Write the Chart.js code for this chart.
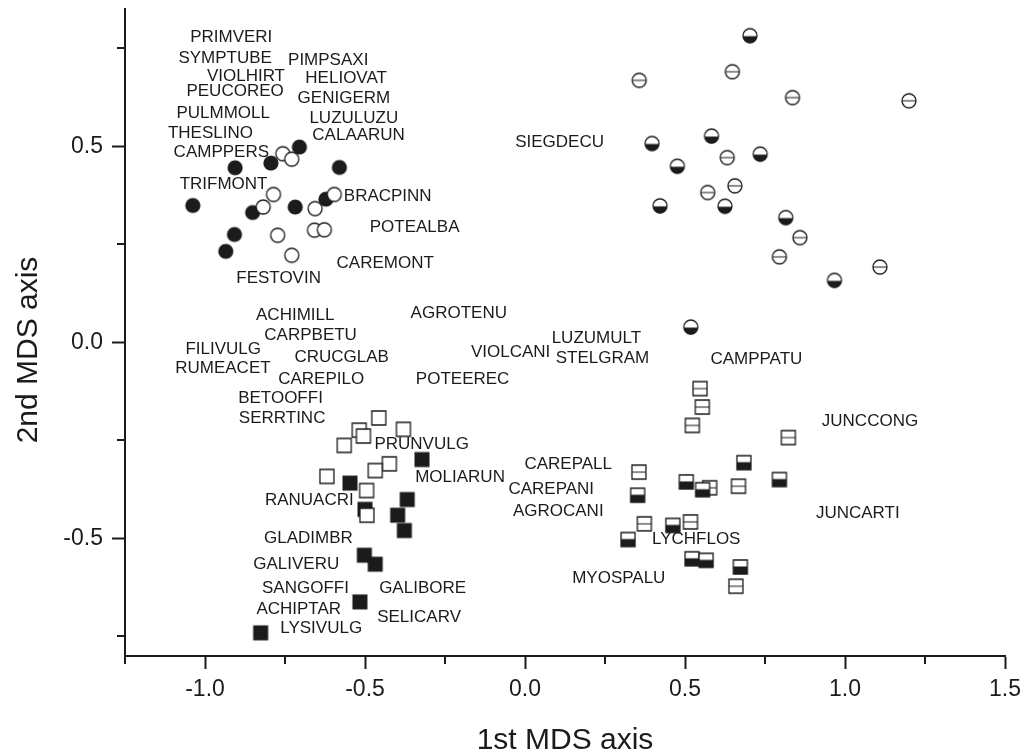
<!DOCTYPE html>
<html>
<head>
<meta charset="utf-8">
<title>MDS ordination</title>
<script src="https://cdn.jsdelivr.net/npm/chart.js@4.4.1/dist/chart.umd.min.js"></script>
<style>
  html, body { margin: 0; padding: 0; background: #fff; }
  #wrap { width: 1025px; height: 754px; }
</style>
</head>
<body>
<div id="wrap"><canvas id="mds" width="1025" height="754"></canvas></div>
<script>
// ── Site scores (1st, 2nd MDS axis) ────────────────────────────────────────

const filledCircles = [
    [-0.705, 0.498], [-0.906, 0.445], [-0.794, 0.457], [-0.580, 0.446], [-1.038, 0.349],
    [-0.851, 0.331], [-0.718, 0.345], [-0.622, 0.365], [-0.908, 0.275], [-0.935, 0.232],
];
const openCircles = [
    [-0.757, 0.481], [-0.729, 0.467], [-0.786, 0.377], [-0.818, 0.345], [-0.596, 0.377],
    [-0.656, 0.341], [-0.658, 0.286], [-0.627, 0.287], [-0.773, 0.273], [-0.729, 0.222],
];
const halfCircles = [
    [0.703, 0.782], [0.397, 0.507], [0.583, 0.526], [0.735, 0.480], [0.476, 0.449],
    [0.422, 0.348], [0.625, 0.347], [0.815, 0.318], [0.967, 0.158], [0.518, 0.039],
];
const lineCircles = [
    [0.357, 0.668], [0.648, 0.690], [0.836, 0.624], [1.200, 0.616], [0.632, 0.471],
    [0.656, 0.399], [0.571, 0.382], [0.859, 0.267], [0.795, 0.218], [1.109, 0.192],
];
const filledSquares = [
    [-0.322, -0.299], [-0.547, -0.359], [-0.368, -0.401], [-0.500, -0.426], [-0.398, -0.441],
    [-0.377, -0.480], [-0.502, -0.543], [-0.468, -0.566], [-0.516, -0.662], [-0.826, -0.741],
];
const openSquares = [
    [-0.457, -0.193], [-0.518, -0.224], [-0.505, -0.239], [-0.380, -0.222], [-0.565, -0.263],
    [-0.424, -0.310], [-0.468, -0.327], [-0.619, -0.342], [-0.495, -0.378], [-0.494, -0.441],
];
const halfSquares = [
    [0.684, -0.307], [0.795, -0.350], [0.504, -0.356], [0.555, -0.376], [0.352, -0.390],
    [0.462, -0.467], [0.322, -0.503], [0.522, -0.552], [0.566, -0.556], [0.673, -0.573],
];
const lineSquares = [
    [0.547, -0.118], [0.554, -0.165], [0.523, -0.212], [0.823, -0.243], [0.356, -0.331],
    [0.577, -0.371], [0.667, -0.367], [0.373, -0.463], [0.517, -0.458], [0.659, -0.622],
];

// species scores: name, 1st axis, 2nd axis (label centre)
const speciesLabels = [
    ['PRIMVERI', -0.918, 0.777], ['SYMPTUBE', -0.937, 0.724], ['PIMPSAXI', -0.615, 0.718],
    ['VIOLHIRT', -0.872, 0.679], ['HELIOVAT', -0.559, 0.673], ['PEUCOREO', -0.906, 0.639],
    ['GENIGERM', -0.566, 0.622], ['PULMMOLL', -0.943, 0.583], ['LUZULUZU', -0.535, 0.571],
    ['THESLINO', -0.983, 0.534], ['CALAARUN', -0.520, 0.528], ['CAMPPERS', -0.949, 0.485],
    ['TRIFMONT', -0.942, 0.402], ['BRACPINN', -0.429, 0.372], ['POTEALBA', -0.345, 0.294],
    ['CAREMONT', -0.437, 0.201], ['FESTOVIN', -0.770, 0.163], ['SIEGDECU', 0.108, 0.511],
    ['ACHIMILL', -0.718, 0.069], ['AGROTENU', -0.207, 0.075], ['CARPBETU', -0.670, 0.018],
    ['FILIVULG', -0.943, -0.018], ['CRUCGLAB', -0.573, -0.039], ['RUMEACET', -0.944, -0.067],
    ['CAREPILO', -0.637, -0.095], ['POTEEREC', -0.195, -0.095], ['BETOOFFI', -0.764, -0.144],
    ['SERRTINC', -0.759, -0.195], ['PRUNVULG', -0.323, -0.259], ['MOLIARUN', -0.203, -0.344],
    ['RANUACRI', -0.674, -0.403], ['GLADIMBR', -0.677, -0.501], ['GALIVERU', -0.715, -0.565],
    ['SANGOFFI', -0.686, -0.627], ['GALIBORE', -0.320, -0.628], ['ACHIPTAR', -0.707, -0.682],
    ['SELICARV', -0.331, -0.701], ['LYSIVULG', -0.637, -0.730], ['VIOLCANI', -0.045, -0.025],
    ['LUZUMULT', 0.223, 0.011], ['STELGRAM', 0.242, -0.040], ['CAMPPATU', 0.723, -0.044],
    ['JUNCCONG', 1.078, -0.202], ['CAREPALL', 0.135, -0.310], ['CAREPANI', 0.082, -0.375],
    ['AGROCANI', 0.104, -0.430], ['JUNCARTI', 1.040, -0.437], ['LYCHFLOS', 0.535, -0.503],
    ['MYOSPALU', 0.293, -0.603],
];

const xRange      = [-1.25, 1.5];
const yRange      = [-0.8, 0.85];
const xMajorTicks = [-1.0, -0.5, 0.0, 0.5, 1.0, 1.5];
const xMinorTicks = [-1.25, -0.75, -0.25, 0.25, 0.75, 1.25];
const yMajorTicks = [-0.5, 0.0, 0.5];
const yMinorTicks = [-0.75, -0.25, 0.25, 0.75];

const INK  = '#1b1b1b';
const FONT = "'Liberation Sans', Arial, Helvetica, sans-serif";

// ── Marker glyphs ──────────────────────────────────────────────────────────

function makeMarker(kind) {
    const s = 18, m = s / 2, r = 7;
    const c = document.createElement('canvas');
    c.width = c.height = s;
    const g = c.getContext('2d');
    g.lineWidth   = 1.3;
    g.strokeStyle = INK;
    g.fillStyle   = '#fff';

    const circle = () => { g.beginPath(); g.arc(m, m, r, 0, Math.PI * 2); };
    const square = () => { g.beginPath(); g.rect(m - r, m - r, r * 2, r * 2); };

    if (kind === 'filledCircle') {
        g.fillStyle = INK; g.beginPath(); g.arc(m, m, r + 0.6, 0, Math.PI * 2); g.fill();
    } else if (kind === 'filledSquare') {
        g.fillStyle = INK; g.fillRect(m - r - 0.5, m - r - 0.5, r * 2 + 1, r * 2 + 1);
    } else if (kind.endsWith('Circle')) {
        circle(); g.fill();
        if (kind === 'halfCircle') {
            g.fillStyle = INK; g.beginPath(); g.arc(m, m + 0.5, r, 0, Math.PI); g.closePath(); g.fill();
        }
        circle(); g.stroke();
        if (kind === 'lineCircle') {
            g.lineWidth = 1; g.beginPath(); g.moveTo(m - r, m); g.lineTo(m + r, m); g.stroke();
        }
    } else {
        square(); g.fill();
        if (kind === 'halfSquare') {
            g.fillStyle = INK; g.fillRect(m - r, m - 0.5, r * 2, r + 0.5);
        }
        square(); g.stroke();
        if (kind === 'lineSquare') {
            g.lineWidth = 1; g.beginPath(); g.moveTo(m - r, m); g.lineTo(m + r, m); g.stroke();
        }
    }
    return c;
}

// dataset 0 is painted last (on top)
const groups = [
    ['openCircle',   openCircles],
    ['filledCircle', filledCircles],
    ['openSquare',   openSquares],
    ['filledSquare', filledSquares],
    ['halfSquare',   halfSquares],
    ['lineSquare',   lineSquares],
    ['lineCircle',   lineCircles],
    ['halfCircle',   halfCircles],
];

// ── Decorations: species names, minor ticks, axis titles ───────────────────

const mdsDecor = {
    id: 'mdsDecor',
    beforeDatasetsDraw(chart) {
        const { ctx, scales: { x, y } } = chart;
        ctx.save();
        ctx.fillStyle    = INK;
        ctx.font         = `17px ${FONT}`;
        ctx.textAlign    = 'center';
        ctx.textBaseline = 'middle';
        speciesLabels.forEach(([name, lx, ly]) =>
            ctx.fillText(name, x.getPixelForValue(lx), y.getPixelForValue(ly)));
        ctx.restore();
    },
    afterDraw(chart) {
        const { ctx, scales: { x, y }, chartArea: area } = chart;
        ctx.save();
        ctx.strokeStyle = INK;
        ctx.lineWidth   = 2;
        ctx.beginPath();
        xMinorTicks.forEach(v => {
            const px = Math.round(x.getPixelForValue(v));
            ctx.moveTo(px, area.bottom);
            ctx.lineTo(px, area.bottom + 8);
        });
        yMinorTicks.forEach(v => {
            const py = Math.round(y.getPixelForValue(v));
            ctx.moveTo(area.left, py);
            ctx.lineTo(area.left - 8, py);
        });
        ctx.stroke();

        ctx.fillStyle    = INK;
        ctx.font         = `30px ${FONT}`;
        ctx.textAlign    = 'center';
        ctx.textBaseline = 'alphabetic';
        ctx.fillText('1st MDS axis', (area.left + area.right) / 2, 749);
        ctx.translate(37, 350);
        ctx.rotate(-Math.PI / 2);
        ctx.fillText('2nd MDS axis', 0, 0);
        ctx.restore();
    },
};

// ── Chart ──────────────────────────────────────────────────────────────────

function axis(range, majors, fixSize) {
    return {
        type: 'linear',
        min: range[0],
        max: range[1],
        afterBuildTicks: scale => { scale.ticks = majors.map(v => ({ value: v })); },
        afterFit: scale => {
            fixSize(scale);
            scale.paddingTop = scale.paddingBottom = 0;
            scale.paddingLeft = scale.paddingRight = 0;
        },
        grid:   { display: true, drawOnChartArea: false, drawTicks: true, tickLength: 13, tickWidth: 2, tickColor: INK, color: INK },
        border: { display: true, color: INK, width: 2 },
        ticks:  {
            color: INK,
            font: { family: FONT, size: 23 },
            autoSkip: false,
            maxRotation: 0,
            callback: v => Number(v).toFixed(1),
        },
    };
}

const xAxis = axis(xRange, xMajorTicks, s => { s.height = 98; });
xAxis.ticks.padding = 7;
const yAxis = axis(yRange, yMajorTicks, s => { s.width = 125; });
yAxis.ticks.padding = 9;

new Chart(document.getElementById('mds').getContext('2d'), {
    type: 'scatter',
    data: {
        datasets: groups.map(([kind, pts]) => ({
            label: kind,
            data: pts.map(([x, y]) => ({ x, y })),
            pointStyle: makeMarker(kind),
            pointRadius: 8,
            showLine: false,
        })),
    },
    options: {
        responsive: false,
        devicePixelRatio: 1,
        animation: false,
        layout: { padding: { top: 9, right: 20, left: 0, bottom: 0 } },
        plugins: {
            legend:  { display: false },
            tooltip: { enabled: false },
        },
        scales: { x: xAxis, y: yAxis },
    },
    plugins: [mdsDecor],
});
</script>
</body>
</html>
